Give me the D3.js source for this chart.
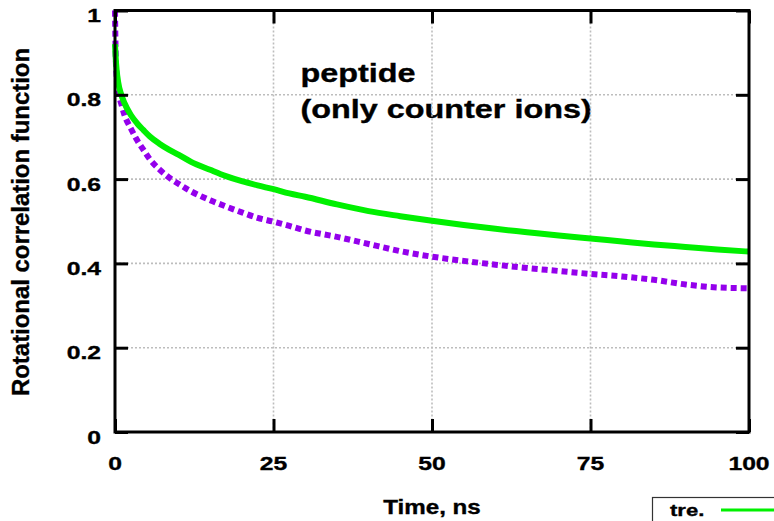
<!DOCTYPE html>
<html>
<head>
<meta charset="utf-8">
<script src="https://cdn.jsdelivr.net/npm/d3@7"></script>
<style>
  html, body { margin: 0; padding: 0; background: #fff; }
  svg { display: block; }
  text { font-family: "Liberation Sans", Arial, sans-serif; font-weight: bold; fill: #000;
         stroke: #000; stroke-width: 0.35px; }
</style>
</head>
<body>
<svg id="chart" width="774" height="521"></svg>
<script>
// Time axis (ns), shared by both curves
const timeNs = [0, 0.1, 0.25, 0.5, 1, 1.5, 2.5, 3.5, 4.5, 5.5, 7, 8.5, 10, 12, 15, 17.5, 20, 22.5, 25,
  27.5, 30, 35, 40, 45, 50, 55, 60, 65, 70, 75, 80, 85, 90, 95, 100];

// Rotational correlation, solid green curve ("tre.")
const treValues = [0.92, 0.89, 0.86, 0.83, 0.80, 0.78, 0.752, 0.732, 0.716, 0.701, 0.684, 0.670, 0.658,
  0.641, 0.622, 0.607, 0.595, 0.585, 0.576, 0.566, 0.558, 0.540, 0.524, 0.512, 0.501, 0.491, 0.482,
  0.474, 0.466, 0.459, 0.452, 0.445, 0.439, 0.433, 0.428];

// Rotational correlation, dashed violet curve
const secondValues = [1.0, 0.90, 0.845, 0.81, 0.778, 0.752, 0.72, 0.692, 0.669, 0.647, 0.623, 0.604,
  0.589, 0.571, 0.550, 0.535, 0.521, 0.508, 0.499, 0.489, 0.478, 0.463, 0.446, 0.429, 0.416, 0.406,
  0.397, 0.389, 0.382, 0.375, 0.369, 0.361, 0.350, 0.343, 0.341];

const xTicks = [0, 25, 50, 75, 100];
const yTicks = [0, 0.2, 0.4, 0.6, 0.8, 1];
const yTickLabels = ["0", "0.2", "0.4", "0.6", "0.8", "1"];
const titleLines = ["peptide", "(only counter ions)"];
const xTitle = "Time, ns";
const yTitle = "Rotational correlation function";
const legendLabel = "tre.";

const svg = d3.select("#chart");
const plotL = 115, plotR = 749, plotT = 10.5, plotB = 432;

const x = d3.scaleLinear().domain([0, 100]).range([plotL, plotR]);
const y = d3.scaleLinear().domain([0, 1]).range([plotB, plotT]);

// helper: horizontally widened bold text
function wideText(g, str, px, py, size, sx, anchor) {
  return g.append("text")
    .attr("transform", `translate(${px},${py}) scale(${sx},1)`)
    .attr("text-anchor", anchor)
    .style("font-size", size + "px")
    .text(str);
}

// in-plot annotation
const title = svg.append("g");
titleLines.forEach((t, i) => wideText(title, t, 300.5, 82 + i * 36, 25.5, 1.27, "start"));

// dotted grid
const grid = svg.append("g")
  .attr("stroke", "#bdbdbd").attr("stroke-width", 1.6).attr("stroke-dasharray", "2,2");
grid.selectAll("line.gx").data(xTicks.filter(d => d > 0 && d < 100)).join("line")
  .attr("x1", d => x(d)).attr("x2", d => x(d)).attr("y1", plotT).attr("y2", plotB);
grid.selectAll("line.gy").data(yTicks.filter(d => d > 0 && d < 1)).join("line")
  .attr("y1", d => y(d)).attr("y2", d => y(d)).attr("x1", plotL).attr("x2", plotR);

// curves
const line = d3.line().x(d => x(d[0])).y(d => y(d[1])).curve(d3.curveMonotoneX);
svg.append("path")
  .datum(timeNs.map((t, i) => [t, secondValues[i]]))
  .attr("d", line).attr("fill", "none")
  .attr("stroke", "#9400ec").attr("stroke-width", 6).attr("stroke-dasharray", "6,4");
svg.append("path")
  .datum(timeNs.map((t, i) => [t, treValues[i]]))
  .attr("d", line).attr("fill", "none")
  .attr("stroke", "#00f000").attr("stroke-width", 6);

// axes: D3 axes with inward ticks on all four sides
const tickLen = 13;
const axisStyle = g => {
  g.select(".domain").remove();
  g.selectAll(".tick line").attr("stroke", "#000").attr("stroke-width", 3);
  g.selectAll(".tick text").remove();
};
svg.append("g").attr("transform", `translate(0,${plotB})`)
  .call(d3.axisBottom(x).tickValues(xTicks).tickSize(-tickLen)).call(axisStyle);
svg.append("g").attr("transform", `translate(0,${plotT})`)
  .call(d3.axisTop(x).tickValues(xTicks).tickSize(-tickLen)).call(axisStyle);
svg.append("g").attr("transform", `translate(${plotL},0)`)
  .call(d3.axisLeft(y).tickValues(yTicks).tickSize(-tickLen)).call(axisStyle);
svg.append("g").attr("transform", `translate(${plotR},0)`)
  .call(d3.axisRight(y).tickValues(yTicks).tickSize(-tickLen)).call(axisStyle);

// frame
svg.append("rect")
  .attr("x", plotL).attr("y", plotT).attr("width", plotR - plotL).attr("height", plotB - plotT)
  .attr("fill", "none").attr("stroke", "#000").attr("stroke-width", 3);

// tick labels
const labels = svg.append("g");
yTicks.forEach((v, i) => wideText(labels, yTickLabels[i], 101, y(v) + 11.5, 19, 1.3, "end"));
xTicks.forEach(v => wideText(labels, String(v), x(v), 470, 19, 1.3, "middle"));

// axis titles
wideText(svg, xTitle, x(50), 513.5, 19.5, 1.24, "middle");
svg.append("text")
  .attr("transform", `translate(29,222) rotate(-90) scale(1.04,1)`)
  .attr("text-anchor", "middle")
  .style("font-size", "23px")
  .text(yTitle);

// legend
const legend = svg.append("g");
legend.append("rect")
  .attr("x", 652.5).attr("y", 497.5).attr("width", 200).attr("height", 60)
  .attr("fill", "#fff").attr("stroke", "#333").attr("stroke-width", 1.2);
wideText(legend, legendLabel, 670, 516, 17, 1.3, "start");
legend.append("line")
  .attr("x1", 721).attr("x2", 790).attr("y1", 510).attr("y2", 510)
  .attr("stroke", "#00f000").attr("stroke-width", 3);
</script>
</body>
</html>
